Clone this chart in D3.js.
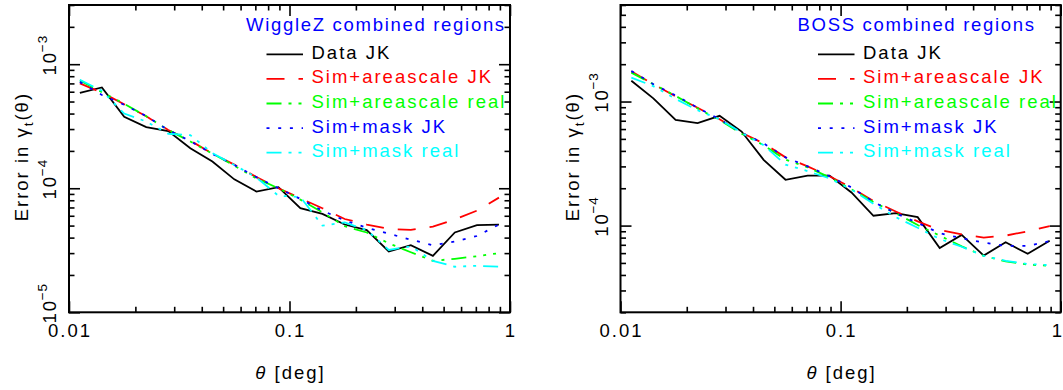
<!DOCTYPE html>
<html>
<head>
<meta charset="utf-8">
<script src="https://cdn.jsdelivr.net/npm/d3@7"></script>
<style>
  body { margin: 0; background: #fff; }
  svg text { font-family: "Liberation Sans", Arial, Helvetica, sans-serif; letter-spacing: 2px; }
</style>
</head>
<body>
<div id="chart"></div>
<script>
// angular bins (deg)
const theta = [0.0112, 0.0141, 0.0178, 0.0224, 0.0282, 0.0355, 0.0447, 0.0562, 0.0708, 0.0891,
               0.112, 0.141, 0.178, 0.224, 0.282, 0.355, 0.447, 0.562, 0.708, 0.891];

// WiggleZ combined regions
const wigDataJK   = [5.88e-4, 6.5e-4, 3.77e-4, 3.11e-4, 2.89e-4, 2.1e-4, 1.64e-4, 1.18e-4, 9.4e-5, 1.02e-4,
                     6.9e-5, 6.21e-5, 5.1e-5, 4.6e-5, 3.09e-5, 3.48e-5, 2.85e-5, 4.4e-5, 5.04e-5, 5.09e-5];
const wigAreaJK   = [7.0e-4, 5.9e-4, 4.75e-4, 3.8e-4, 2.95e-4, 2.42e-4, 1.9e-4, 1.55e-4, 1.23e-4, 1.0e-4,
                     8.3e-5, 6.9e-5, 5.65e-5, 5.1e-5, 4.7e-5, 4.62e-5, 4.9e-5, 5.6e-5, 6.6e-5, 8.4e-5];
const wigAreaReal = [7.4e-4, 5.95e-4, 4.8e-4, 3.8e-4, 2.95e-4, 2.38e-4, 1.9e-4, 1.52e-4, 1.2e-4, 1.0e-4,
                     8.1e-5, 6.4e-5, 4.95e-5, 4.4e-5, 3.6e-5, 3.05e-5, 2.6e-5, 2.7e-5, 2.83e-5, 3.0e-5];
const wigMaskJK   = [7.2e-4, 5.65e-4, 4.7e-4, 3.82e-4, 2.94e-4, 2.4e-4, 1.89e-4, 1.54e-4, 1.23e-4, 1.0e-4,
                     8.2e-5, 6.6e-5, 5.5e-5, 4.8e-5, 4.3e-5, 3.85e-5, 3.47e-5, 3.72e-5, 4.12e-5, 5.1e-5];
const wigMaskReal = [7.5e-4, 6.1e-4, 4.0e-4, 3.45e-4, 2.75e-4, 2.68e-4, 1.92e-4, 1.54e-4, 1.22e-4, 8.7e-5,
                     8.5e-5, 5.0e-5, 5.3e-5, 4.6e-5, 3.18e-5, 3.4e-5, 2.6e-5, 2.33e-5, 2.37e-5, 2.33e-5];

// BOSS combined regions
const bossDataJK   = [1.47e-3, 1.06e-3, 7.11e-4, 6.69e-4, 7.67e-4, 5.73e-4, 3.39e-4, 2.34e-4, 2.53e-4, 2.53e-4,
                      1.85e-4, 1.2e-4, 1.26e-4, 1.17e-4, 6.58e-5, 8.41e-5, 5.73e-5, 7.34e-5, 5.92e-5, 7.54e-5];
const bossAreaJK   = [1.75e-3, 1.38e-3, 1.1e-3, 8.9e-4, 7.2e-4, 5.6e-4, 4.6e-4, 3.55e-4, 3.0e-4, 2.5e-4,
                      2.02e-4, 1.58e-4, 1.3e-4, 1.08e-4, 9.2e-5, 8.5e-5, 8.0e-5, 8.3e-5, 9.0e-5, 9.9e-5];
const bossAreaReal = [1.71e-3, 1.38e-3, 1.11e-3, 8.8e-4, 7.1e-4, 5.5e-4, 4.45e-4, 3.4e-4, 2.95e-4, 2.45e-4,
                      1.96e-4, 1.55e-4, 1.26e-4, 1.01e-4, 8.3e-5, 6.8e-5, 5.7e-5, 5.15e-5, 4.85e-5, 4.75e-5];
const bossMaskJK   = [1.76e-3, 1.38e-3, 1.12e-3, 8.9e-4, 7.2e-4, 5.6e-4, 4.6e-4, 3.55e-4, 3.0e-4, 2.5e-4,
                      2.03e-4, 1.55e-4, 1.26e-4, 1.05e-4, 8.7e-5, 7.9e-5, 7.3e-5, 6.85e-5, 6.85e-5, 7.5e-5];
const bossMaskReal = [1.56e-3, 1.33e-3, 1.05e-3, 8.5e-4, 7.2e-4, 5.6e-4, 4.45e-4, 3.1e-4, 2.75e-4, 2.4e-4,
                      1.95e-4, 1.5e-4, 1.17e-4, 9.6e-5, 7.8e-5, 6.75e-5, 5.7e-5, 5.2e-5, 4.9e-5, 4.8e-5];

const seriesNames = ["Data JK", "Sim+areascale JK", "Sim+areascale real", "Sim+mask JK", "Sim+mask real"];
const xTickValues = [0.01, 0.1, 1];
const xTickLabels = ["0.01", "0.1", "1"];

// line styles
const seriesColors = ["#000000", "#ff0000", "#00ff00", "#0000ff", "#00ffff"];
const seriesDash = [null, "18,14", "15,7,3,7,3,7,3,7", "3,8.7", "15,7,3,7,3,7,3,7"];

const W = 1063, H = 390;
const plotTop = 5, plotBottom = 312.3;
const fs = "18.5px";

const panels = [
    { title: "WiggleZ combined regions", left: 69, right: 510, yDomain: [1e-5, 3e-3],
      series: [wigDataJK, wigAreaJK, wigAreaReal, wigMaskJK, wigMaskReal] },
    { title: "BOSS combined regions", left: 620.5, right: 1060.7, yDomain: [2e-5, 6e-3],
      series: [bossDataJK, bossAreaJK, bossAreaReal, bossMaskJK, bossMaskReal] }
];

const svg = d3.select("#chart")
    .append("svg")
    .attr("width", W)
    .attr("height", H);

svg.append("rect").attr("width", W).attr("height", H).attr("fill", "#fff");

const isMajor = v => Math.abs(Math.log10(v) - Math.round(Math.log10(v))) < 1e-6;

panels.forEach(p => {
    const x = d3.scaleLog().domain([0.01, 1]).range([p.left, p.right]);
    const y = d3.scaleLog().domain(p.yDomain).range([plotBottom, plotTop]);
    const g = svg.append("g");

    // ----- ticks (inward, all four sides)
    const xMinor = x.ticks().filter(v => !isMajor(v));
    const yMajor = y.ticks().filter(isMajor);
    const yMinor = y.ticks().filter(v => !isMajor(v));

    function addAxis(axis, tx, ty) {
        const a = g.append("g").attr("transform", `translate(${tx},${ty})`).call(axis);
        a.select(".domain").remove();
        a.selectAll("line").attr("stroke", "#000").attr("stroke-width", 1.6);
        a.selectAll("text").remove();
    }
    [[xTickValues, 11], [xMinor, 5.5]].forEach(([vals, len]) => {
        addAxis(d3.axisBottom(x).tickValues(vals).tickSize(-len).tickFormat(""), 0, plotBottom);
        addAxis(d3.axisTop(x).tickValues(vals).tickSize(-len).tickFormat(""), 0, plotTop);
    });
    [[yMajor, 11], [yMinor, 5.5]].forEach(([vals, len]) => {
        addAxis(d3.axisLeft(y).tickValues(vals).tickSize(-len).tickFormat(""), p.left, 0);
        addAxis(d3.axisRight(y).tickValues(vals).tickSize(-len).tickFormat(""), p.right, 0);
    });

    // ----- curves
    const line = d3.line()
        .x((d, i) => x(theta[i]))
        .y(d => y(d));

    p.series.forEach((vals, k) => {
        g.append("path")
            .datum(vals)
            .attr("fill", "none")
            .attr("stroke", seriesColors[k])
            .attr("stroke-width", 1.8)
            .attr("stroke-dasharray", seriesDash[k])
            .attr("d", line);
    });

    // ----- frame
    g.append("rect")
        .attr("x", p.left).attr("y", plotTop)
        .attr("width", p.right - p.left).attr("height", plotBottom - plotTop)
        .attr("fill", "none").attr("stroke", "#000").attr("stroke-width", 2);

    // ----- x tick labels (last one kept inside the window)
    xTickValues.forEach((v, i) => {
        const atEdge = x(v) + 8 > W;
        g.append("text")
            .attr("x", atEdge ? W - 1 : x(v) + 1)
            .attr("y", plotBottom + 25)
            .attr("text-anchor", atEdge ? "end" : "middle")
            .style("font-size", fs)
            .style("letter-spacing", atEdge ? "0px" : null)
            .text(xTickLabels[i]);
    });

    // ----- y tick labels (rotated 10^n)
    yMajor.forEach(v => {
        const e = Math.round(Math.log10(v));
        const t = g.append("g")
            .attr("transform", `translate(${p.left - 13},${y(v)}) rotate(-90)`);
        t.append("text")
            .attr("x", 1).attr("y", 0)
            .attr("text-anchor", "middle")
            .style("font-size", fs)
            .text("10");
        t.append("text")
            .attr("x", 12).attr("y", -9.5)
            .style("font-size", "13.5px")
            .style("letter-spacing", "1px")
            .text((e < 0 ? "\u2212" : "") + Math.abs(e));
    });

    // ----- axis titles
    const yt = g.append("text")
        .attr("transform", `translate(${p.left - 41.5},${(plotTop + plotBottom) / 2 - 2}) rotate(-90)`)
        .attr("text-anchor", "middle")
        .style("font-size", fs);
    yt.append("tspan").text("Error in \u03b3");
    yt.append("tspan").attr("dy", 5).style("font-size", "13.5px").text("t");
    yt.append("tspan").attr("dy", -5).text("(\u03b8)");

    const xt = g.append("text")
        .attr("x", (p.left + p.right) / 2 + 1)
        .attr("y", 379)
        .attr("text-anchor", "middle")
        .style("font-size", fs);
    xt.append("tspan").style("font-style", "italic").text("\u03b8");
    xt.append("tspan").text(" [deg]");

    // ----- legend
    g.append("text")
        .attr("x", p.left + 177)
        .attr("y", 30.7)
        .attr("fill", "#0000ff")
        .style("font-size", fs)
        .style("letter-spacing", "1.7px")
        .text(p.title);

    seriesNames.forEach((name, k) => {
        const ly = 54.3 + k * 24.6;
        g.append("line")
            .attr("x1", p.left + 197.5).attr("x2", p.left + 234)
            .attr("y1", ly).attr("y2", ly)
            .attr("stroke", seriesColors[k])
            .attr("stroke-width", 1.8)
            .attr("stroke-dasharray", seriesDash[k]);
        g.append("text")
            .attr("x", p.left + 242.5)
            .attr("y", ly + 4.5)
            .attr("fill", seriesColors[k])
            .style("font-size", fs)
            .text(name);
    });
});
</script>
</body>
</html>
